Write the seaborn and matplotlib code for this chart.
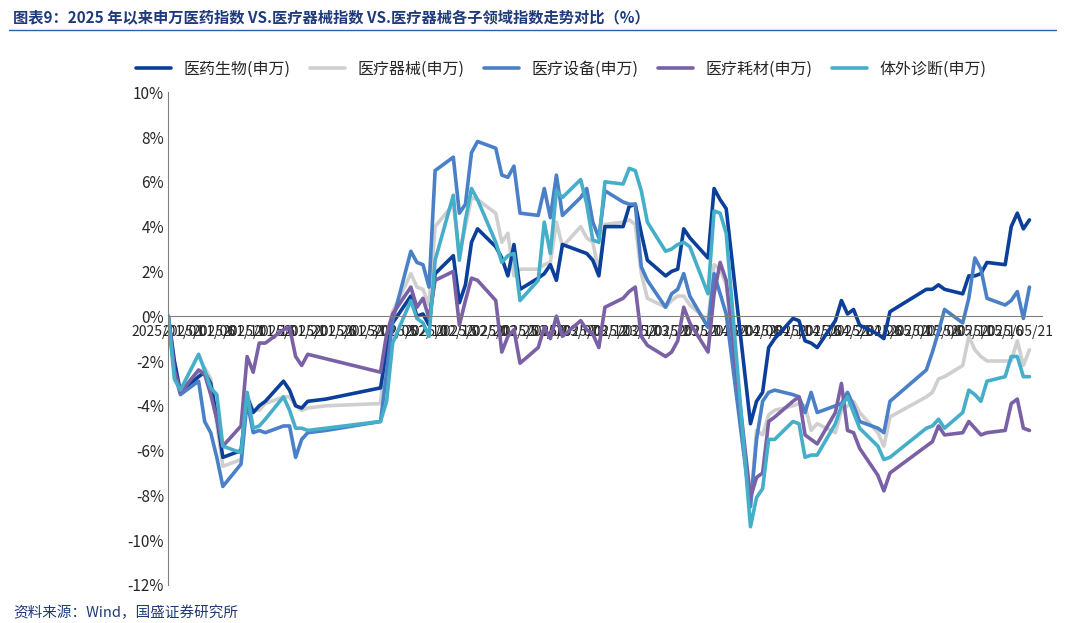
import pandas as pd
import matplotlib
matplotlib.use("Agg")
import matplotlib.pyplot as plt
import seaborn as sns

# ---- data (%) ----
dates = (["2025-01-01", "2025-01-02", "2025-01-03", "2025-01-06", "2025-01-07", "2025-01-08", "2025-01-09",
          "2025-01-10", "2025-01-13", "2025-01-14", "2025-01-15", "2025-01-16", "2025-01-17", "2025-01-20",
          "2025-01-21", "2025-01-22", "2025-01-23", "2025-01-24", "2025-01-27"]
         + ["2025-02-05", "2025-02-06", "2025-02-07", "2025-02-10", "2025-02-11", "2025-02-12", "2025-02-13",
            "2025-02-14", "2025-02-17", "2025-02-18", "2025-02-19", "2025-02-20", "2025-02-21", "2025-02-24",
            "2025-02-25", "2025-02-26", "2025-02-27", "2025-02-28"]
         + ["2025-03-03", "2025-03-04", "2025-03-05", "2025-03-06", "2025-03-07", "2025-03-10", "2025-03-11",
            "2025-03-12", "2025-03-13", "2025-03-14", "2025-03-17", "2025-03-18", "2025-03-19", "2025-03-20",
            "2025-03-21", "2025-03-24", "2025-03-25", "2025-03-26", "2025-03-27", "2025-03-28", "2025-03-31"]
         + ["2025-04-01", "2025-04-02", "2025-04-03", "2025-04-07", "2025-04-08", "2025-04-09", "2025-04-10",
            "2025-04-11", "2025-04-14", "2025-04-15", "2025-04-16", "2025-04-17", "2025-04-18", "2025-04-21",
            "2025-04-22", "2025-04-23", "2025-04-24", "2025-04-25", "2025-04-28", "2025-04-29", "2025-04-30"]
         + ["2025-05-06", "2025-05-07", "2025-05-08", "2025-05-09", "2025-05-12", "2025-05-13", "2025-05-14",
            "2025-05-15", "2025-05-16", "2025-05-19", "2025-05-20", "2025-05-21", "2025-05-22", "2025-05-23"])

pharma = ([0, -2.0, -3.4, -2.7, -2.5, -3.0, -4.5, -6.3, -6.0, -3.6, -4.3, -4.0, -3.8, -2.9, -3.3, -4.0, -4.1, -3.8, -3.7]
          + [-3.2, -1.5, -0.3, 0.9, 0.0, 0.1, -0.4, 1.9, 2.7, 0.6, 1.4, 3.3, 3.9, 3.1, 2.6, 1.8, 3.2, 1.2]
          + [1.7, 1.9, 2.3, 1.6, 3.2, 2.9, 2.8, 2.5, 1.8, 4.0, 4.0, 4.9, 5.0, 3.7, 2.5, 1.8, 2.0, 2.1, 3.9, 3.5, 2.6]
          + [5.7, 5.2, 4.8, -4.8, -3.8, -3.4, -1.4, -1.0, -0.1, -0.2, -1.1, -1.2, -1.4, -0.2, 0.7, 0.1, 0.3, -0.4, -0.8, -1.0, 0.2]
          + [1.2, 1.2, 1.4, 1.2, 1.0, 1.8, 1.8, 1.9, 2.4, 2.3, 4.0, 4.6, 3.9, 4.3])
devices = ([0, -2.0, -3.3, -2.6, -2.3, -2.8, -4.8, -6.7, -6.4, -3.5, -4.2, -4.2, -3.9, -3.6, -3.6, -4.0, -4.2, -4.1, -4.0]
           + [-3.9, -1.0, 0.2, 1.9, 1.3, 1.2, 0.5, 4.0, 5.0, 2.8, 4.0, 5.3, 5.2, 4.6, 3.3, 3.7, 1.8, 2.1]
           + [2.1, 2.3, 2.4, 4.2, 3.1, 4.0, 3.5, 3.3, 2.0, 4.1, 4.2, 4.3, 4.1, 1.9, 0.8, 0.4, 0.7, 0.9, 0.9, 0.5, -0.2]
           + [2.3, 2.1, 1.4, -8.5, -5.1, -5.3, -4.4, -4.2, -4.0, -3.9, -4.0, -5.1, -4.8, -5.2, -4.2, -4.0, -3.8, -4.3, -5.2, -5.8, -4.5]
           + [-3.6, -3.4, -2.8, -2.7, -2.2, -0.9, -1.5, -1.8, -2.0, -2.0, -2.0, -1.1, -2.2, -1.5])
equipment = ([0, -2.5, -3.5, -2.9, -4.7, -5.2, -6.3, -7.6, -6.6, -3.8, -5.2, -5.1, -5.2, -4.9, -4.9, -6.3, -5.5, -5.2, -5.1]
             + [-4.7, -2.5, -0.2, 2.9, 2.4, 2.3, 1.3, 6.5, 7.1, 4.6, 5.0, 7.3, 7.8, 7.5, 6.3, 6.2, 6.7, 4.6]
             + [4.5, 5.7, 4.4, 6.3, 4.5, 5.3, 5.7, 4.2, 3.5, 5.6, 5.1, 5.0, 5.0, 2.2, 1.6, 0.4, 1.0, 1.2, 1.9, 0.9, -0.5]
             + [1.9, 1.0, 0.1, -8.5, -5.5, -3.8, -3.4, -3.3, -3.5, -3.6, -4.3, -3.4, -4.3, -4.0, -3.9, -3.4, -4.0, -4.7, -5.0, -5.2, -3.8]
             + [-2.4, -1.6, -0.7, 0.3, -0.3, 0.8, 2.6, 2.1, 0.8, 0.5, 0.7, 1.1, -0.1, 1.3])
consumables = ([0, -2.4, -3.4, -2.4, -2.6, -3.5, -4.6, -5.8, -4.9, -1.8, -2.5, -1.2, -1.2, -0.6, -0.5, -1.8, -2.2, -1.7, -1.9]
               + [-2.5, -0.8, 0.1, 1.3, 0.4, 0.8, -0.1, 1.6, 2.0, -0.4, 0.7, 1.7, 1.6, 0.7, -1.6, -0.9, -0.6, -2.1]
               + [-1.4, -0.5, -1.0, 0.0, -0.9, -0.2, -0.6, -0.8, -1.4, 0.4, 0.8, 1.1, 1.3, -0.9, -1.3, -1.8, -1.6, -1.1, 0.4, -0.3, -1.6]
               + [1.0, 2.4, 1.6, -8.1, -7.2, -7.0, -4.7, -4.5, -3.8, -3.6, -5.3, -5.5, -5.7, -4.3, -3.0, -5.1, -5.2, -5.9, -7.1, -7.8, -7.0]
               + [-5.8, -5.6, -4.9, -5.3, -5.2, -4.7, -5.0, -5.3, -5.2, -5.1, -3.9, -3.7, -5.0, -5.1])
ivd = ([0, -2.8, -3.3, -1.7, -2.4, -3.2, -3.5, -5.8, -6.1, -3.4, -5.0, -4.9, -4.6, -3.6, -4.2, -5.0, -5.0, -5.1, -5.0]
       + [-4.7, -3.8, -1.2, 0.7, -0.1, -0.3, -0.9, 2.5, 5.4, 2.5, 4.3, 5.7, 5.2, 3.3, 2.4, 2.7, 2.8, 0.7]
       + [1.6, 4.2, 2.8, 5.6, 5.3, 6.1, 5.0, 3.4, 3.3, 6.0, 5.9, 6.6, 6.5, 5.6, 4.2, 2.9, 3.0, 3.2, 3.3, 3.1, 1.0]
       + [4.7, 4.6, 3.7, -9.4, -8.1, -7.7, -5.5, -5.5, -4.7, -4.8, -6.3, -6.2, -6.2, -4.8, -4.0, -3.6, -4.3, -5.0, -5.8, -6.4, -6.3]
       + [-5.0, -4.9, -4.6, -5.0, -4.3, -3.3, -3.5, -3.8, -2.9, -2.7, -1.8, -1.8, -2.7, -2.7])

series_names = ["医药生物(申万)", "医疗器械(申万)", "医疗设备(申万)", "医疗耗材(申万)", "体外诊断(申万)"]
series_values = [pharma, devices, equipment, consumables, ivd]
colors = ["#0b3f9a", "#cfcfcf", "#4a80c8", "#7a61a6", "#45aec9"]
tick_dates = pd.date_range("2025-01-01", "2025-05-21", freq="5D")
y_ticks = list(range(-12, 11, 2))

frames = [pd.DataFrame({"date": pd.to_datetime(dates), "value": v, "series": n})
          for n, v in zip(series_names, series_values)]
df = pd.concat(frames, ignore_index=True)

sns.set_style("white")
plt.rcParams["font.family"] = ["Noto Sans CJK SC", "DejaVu Sans"]
plt.rcParams["axes.unicode_minus"] = False

fig = plt.figure(figsize=(10.65, 6.23), dpi=100)
ax = fig.add_axes([0.158, 0.061, 0.82, 0.791])

sns.lineplot(data=df, x="date", y="value", hue="series", hue_order=series_names,
             palette=colors, linewidth=2.6, ax=ax)
# gray series sits behind the others in the reference
for line in ax.get_lines():
    if line.get_color() == "#cfcfcf":
        line.set_zorder(1.5)

ax.set_ylim(-12, 10)
ax.set_yticks(y_ticks)
ax.set_yticklabels([f"{t}%" for t in y_ticks], fontsize=11)
ax.set_xlim(pd.Timestamp("2025-01-01"), pd.Timestamp("2025-05-25"))
ax.set_xticks(tick_dates)
ax.set_xticklabels([d.strftime("%Y/%m/%d") for d in tick_dates], rotation=45,
                   ha="right", rotation_mode="anchor", fontsize=11)
ax.set_xlabel("")
ax.set_ylabel("")

ax.spines["bottom"].set_position(("data", 0))
for s in ["top", "right"]:
    ax.spines[s].set_visible(False)
for s in ["bottom", "left"]:
    ax.spines[s].set_color("#808080")
ax.tick_params(axis="both", direction="in", length=5, color="#808080", pad=3)
ax.tick_params(axis="x", pad=6)

ax.legend(loc="lower center", bbox_to_anchor=(0.45, 1.0), ncol=5, frameon=False,
          fontsize=11.5, handlelength=2.2, columnspacing=1.2)

fig.text(0.012, 0.965, "图表9：2025 年以来申万医药指数 VS.医疗器械指数 VS.医疗器械各子领域指数走势对比（%）",
         fontsize=11, color="#1f3a7a", style="italic", fontweight="bold")
fig.add_artist(plt.Line2D([0.008, 0.992], [0.952, 0.952], color="#2f5fa8", linewidth=1))
fig.text(0.012, 0.01, "资料来源：Wind，国盛证券研究所", fontsize=10.5, color="#1f3a7a", style="italic")

fig.savefig("out.png", dpi=100)
